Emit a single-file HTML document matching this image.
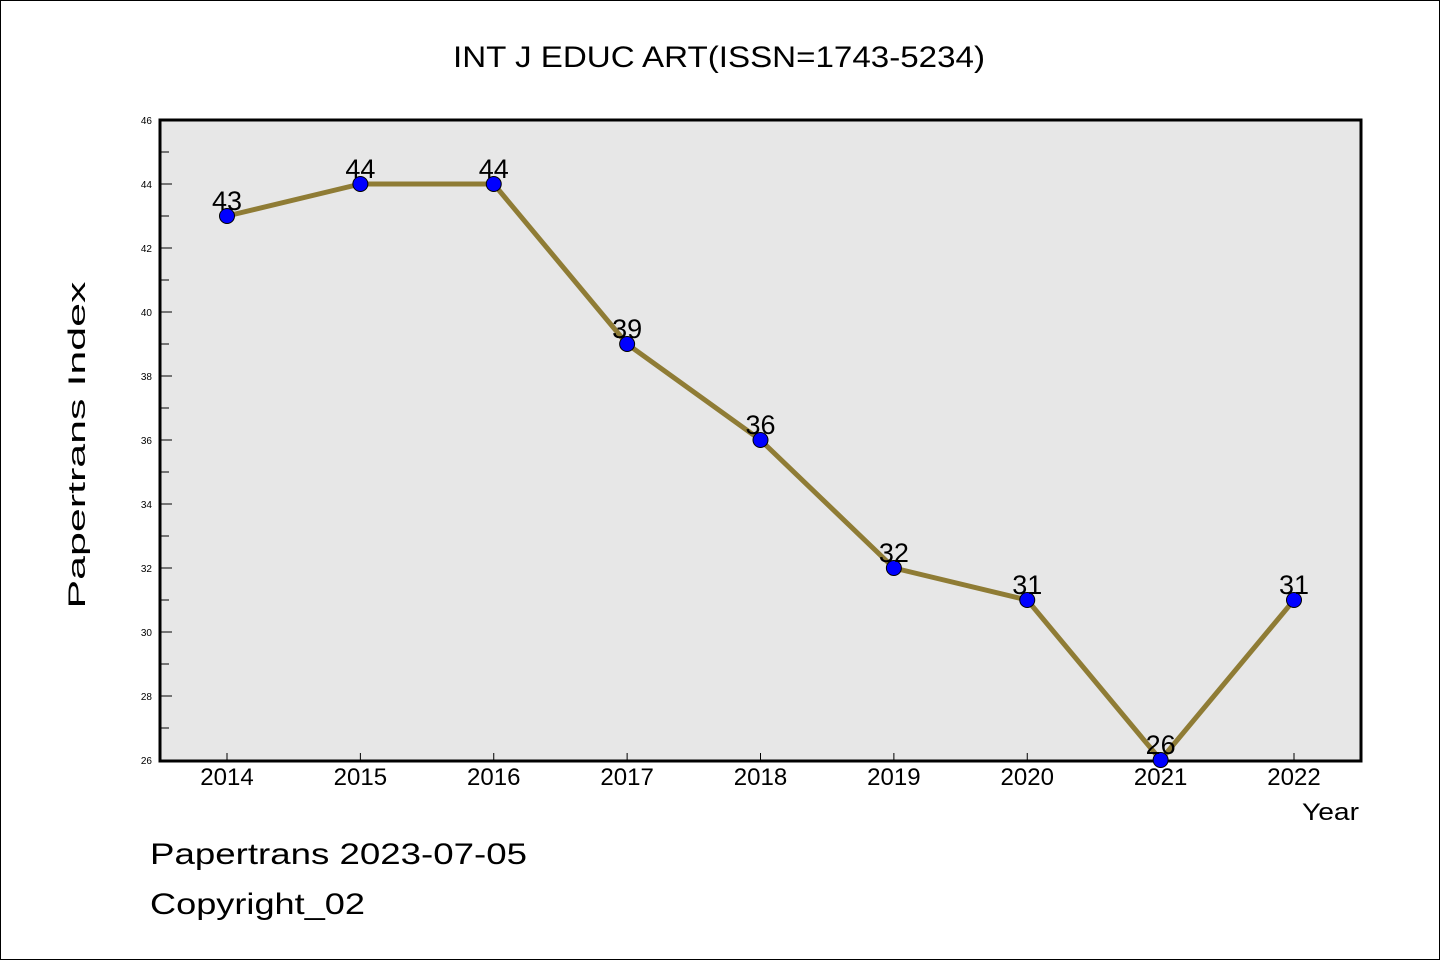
<!DOCTYPE html>
<html><head><meta charset="utf-8"><style>
body{margin:0;background:#fff}
svg{display:block}
text{font-family:"Liberation Sans",sans-serif;fill:#000}
</style></head><body>
<svg id="chart" width="1440" height="960" viewBox="0 0 1440 960" xmlns="http://www.w3.org/2000/svg">
<rect x="0.5" y="0.5" width="1439" height="959" fill="#fff" stroke="#000" stroke-width="1"/>
<text x="719" y="67" font-size="30" text-anchor="middle" textLength="532" lengthAdjust="spacingAndGlyphs">INT J EDUC ART(ISSN=1743-5234)</text>
<rect x="160" y="120" width="1201" height="641" fill="#e7e7e7" stroke="#000" stroke-width="3"/>
<g id="yticks"></g>
<g id="xticks"></g>
<text transform="translate(85,445) rotate(-90)" font-size="24" text-anchor="middle" textLength="327" lengthAdjust="spacingAndGlyphs">Papertrans Index</text>
<text x="1359" y="820" font-size="24" text-anchor="end" textLength="57" lengthAdjust="spacingAndGlyphs">Year</text>
<g id="series"></g>
<text x="150" y="864" font-size="30" textLength="377" lengthAdjust="spacingAndGlyphs">Papertrans 2023-07-05</text>
<text x="150" y="914" font-size="30" textLength="215" lengthAdjust="spacingAndGlyphs">Copyright_02</text>
</svg>
<script>
const years = ["2014","2015","2016","2017","2018","2019","2020","2021","2022"];
const values = [43,44,44,39,36,32,31,26,31];
const yTicks = [26,28,30,32,34,36,38,40,42,44,46];
const NS="http://www.w3.org/2000/svg";
const X0=227, X1=1294, Y0=26, Y1=46, PT=120, PB=760;
function xs(i){return X0+(X1-X0)*i/(years.length-1);}
function ys(v){return PB-(v-Y0)/(Y1-Y0)*(PB-PT);}
function mk(tag,attrs,parent){const e=document.createElementNS(NS,tag);for(const k in attrs)e.setAttribute(k,attrs[k]);parent.appendChild(e);return e;}
const yg=document.getElementById('yticks');
yTicks.forEach((v,i)=>{
  const y=ys(v);
  const t=mk('line',{x1:160,x2:172,y1:y,y2:y,stroke:'#000','stroke-width':1},yg);
  
  
  const l=mk('text',{x:152,y:y+4,'font-size':10,'text-anchor':'end'},yg);
  l.textContent=v;
  
  
  if(i<yTicks.length-1){
    const ym=ys(v+1);
    const m=mk('line',{x1:160,x2:169,y1:ym,y2:ym,stroke:'#000','stroke-width':1},yg);
    
    
  }
});
const xg=document.getElementById('xticks');
years.forEach((yr,i)=>{
  const x=xs(i);
  const t=mk('line',{x1:x,x2:x,y1:753,y2:760,stroke:'#000','stroke-width':1},xg);
  
  
  const l=mk('text',{x:x,y:785,'font-size':24,'text-anchor':'middle'},xg);
  l.textContent=yr;
  
  
});
const sg=document.getElementById('series');
const pl=mk('polyline',{points:values.map((v,i)=>xs(i)+','+ys(v)).join(' '),fill:'none',stroke:'#8f7c35','stroke-width':5,'stroke-linejoin':'round'},sg);


values.forEach((v,i)=>{
  const c=mk('circle',{cx:xs(i),cy:ys(v),r:7.5,fill:'#0000ff',stroke:'#000','stroke-width':1},sg);
  
  
  const l=mk('text',{x:xs(i),y:ys(v)-6,'font-size':27,'text-anchor':'middle'},sg);
  l.textContent=v;
  
  
});
</script>
</body></html>
